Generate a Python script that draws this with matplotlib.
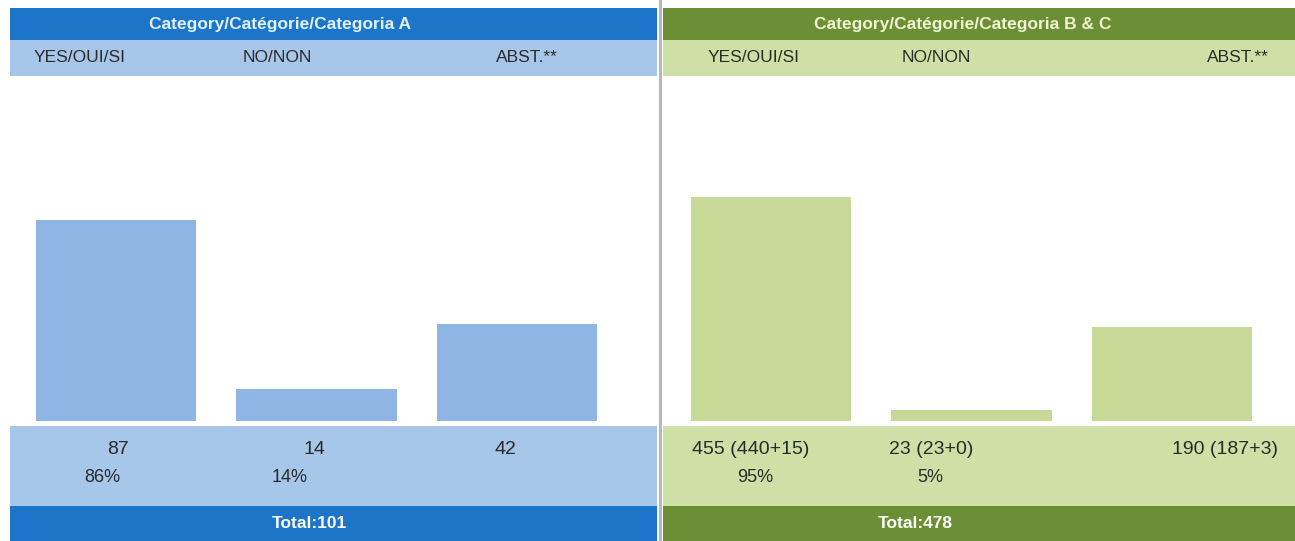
import matplotlib.pyplot as plt
from matplotlib.patches import Rectangle

plt.rcParams['font.family'] = ['Liberation Sans', 'DejaVu Sans']

# data
answers = ['YES/OUI/SI', 'NO/NON', 'ABST.**']
titles = ['Category/Catégorie/Categoria A', 'Category/Catégorie/Categoria B & C']
votes_a = [87, 14, 42]
votes_bc = [455, 23, 190]
detail_bc = ['(440+15)', '(23+0)', '(187+3)']
pct_a = ['86%', '14%']
pct_bc = ['95%', '5%']
totals = [101, 478]

W, H = 1295, 541
fig = plt.figure(figsize=(W / 100, H / 100), dpi=100)
fig.patch.set_facecolor('white')


def px_rect(x0, y0, x1, y1, color, z=0):
    fig.patches.append(Rectangle((x0 / W, 1 - y1 / H), (x1 - x0) / W, (y1 - y0) / H,
                                 transform=fig.transFigure, facecolor=color,
                                 edgecolor='none', zorder=z))


def px_text(x, y, s, **kw):
    fig.text(x / W, 1 - y / H, s, ha='center', va='center', **kw)


panels = [
    dict(x0=10, x1=657, dark='#1c75c8', light='#a6c6ea', bar='#8fb5e4',
         head_txt='#dff2ff', ax_x=(16, 617), ymax=149,
         votes=votes_a, labels=[str(v) for v in votes_a], pct=pct_a,
         head_x=280, lab_x=[80, 277, 527], val_x=[118, 314, 505],
         pct_x=[102, 290], tot_x=309),
    dict(x0=663, x1=1295, dark='#6c8e34', light='#cfe0a7', bar='#c6d997',
         head_txt='#eef5d0', ax_x=(671, 1272), ymax=700,
         votes=votes_bc, labels=[f'{v} {d}' for v, d in zip(votes_bc, detail_bc)],
         pct=pct_bc,
         head_x=963, lab_x=[754, 936, 1238], val_x=[751, 931, 1225],
         pct_x=[755, 930], tot_x=915),
]

for i, p in enumerate(panels):
    px_rect(p['x0'], 8, p['x1'], 40, p['dark'])
    px_rect(p['x0'], 40, p['x1'], 76, p['light'])
    px_rect(p['x0'], 426, p['x1'], 506, p['light'])
    px_rect(p['x0'], 506, p['x1'], 541, p['dark'])

    px_text(p['head_x'], 24, titles[i], color=p['head_txt'], fontsize=12.5, fontweight='bold')
    for x, s in zip(p['lab_x'], answers):
        px_text(x, 58, s, color='#2a2a2a', fontsize=12.5)
    for x, s in zip(p['val_x'], p['labels']):
        px_text(x, 449, s, color='#2a2a2a', fontsize=14)
    for x, s in zip(p['pct_x'], p['pct']):
        px_text(x, 478, s, color='#2a2a2a', fontsize=13)
    px_text(p['tot_x'], 523, f'Total:{totals[i]}', color='white', fontsize=12.5,
            fontweight='bold')

    ax_l, ax_r = p['ax_x']
    ax = fig.add_axes([ax_l / W, 1 - 421 / H, (ax_r - ax_l) / W, 345 / H])
    ax.patch.set_alpha(0)
    ax.bar(range(3), p['votes'], width=0.8, color=p['bar'])
    ax.set_xlim(-0.5, 2.5)
    ax.set_ylim(0, p['ymax'])
    ax.axis('off')

# divider between panels
px_rect(659, 0, 662, 541, '#b8b8b8')

fig.savefig('out.png', dpi=100, facecolor='white')
